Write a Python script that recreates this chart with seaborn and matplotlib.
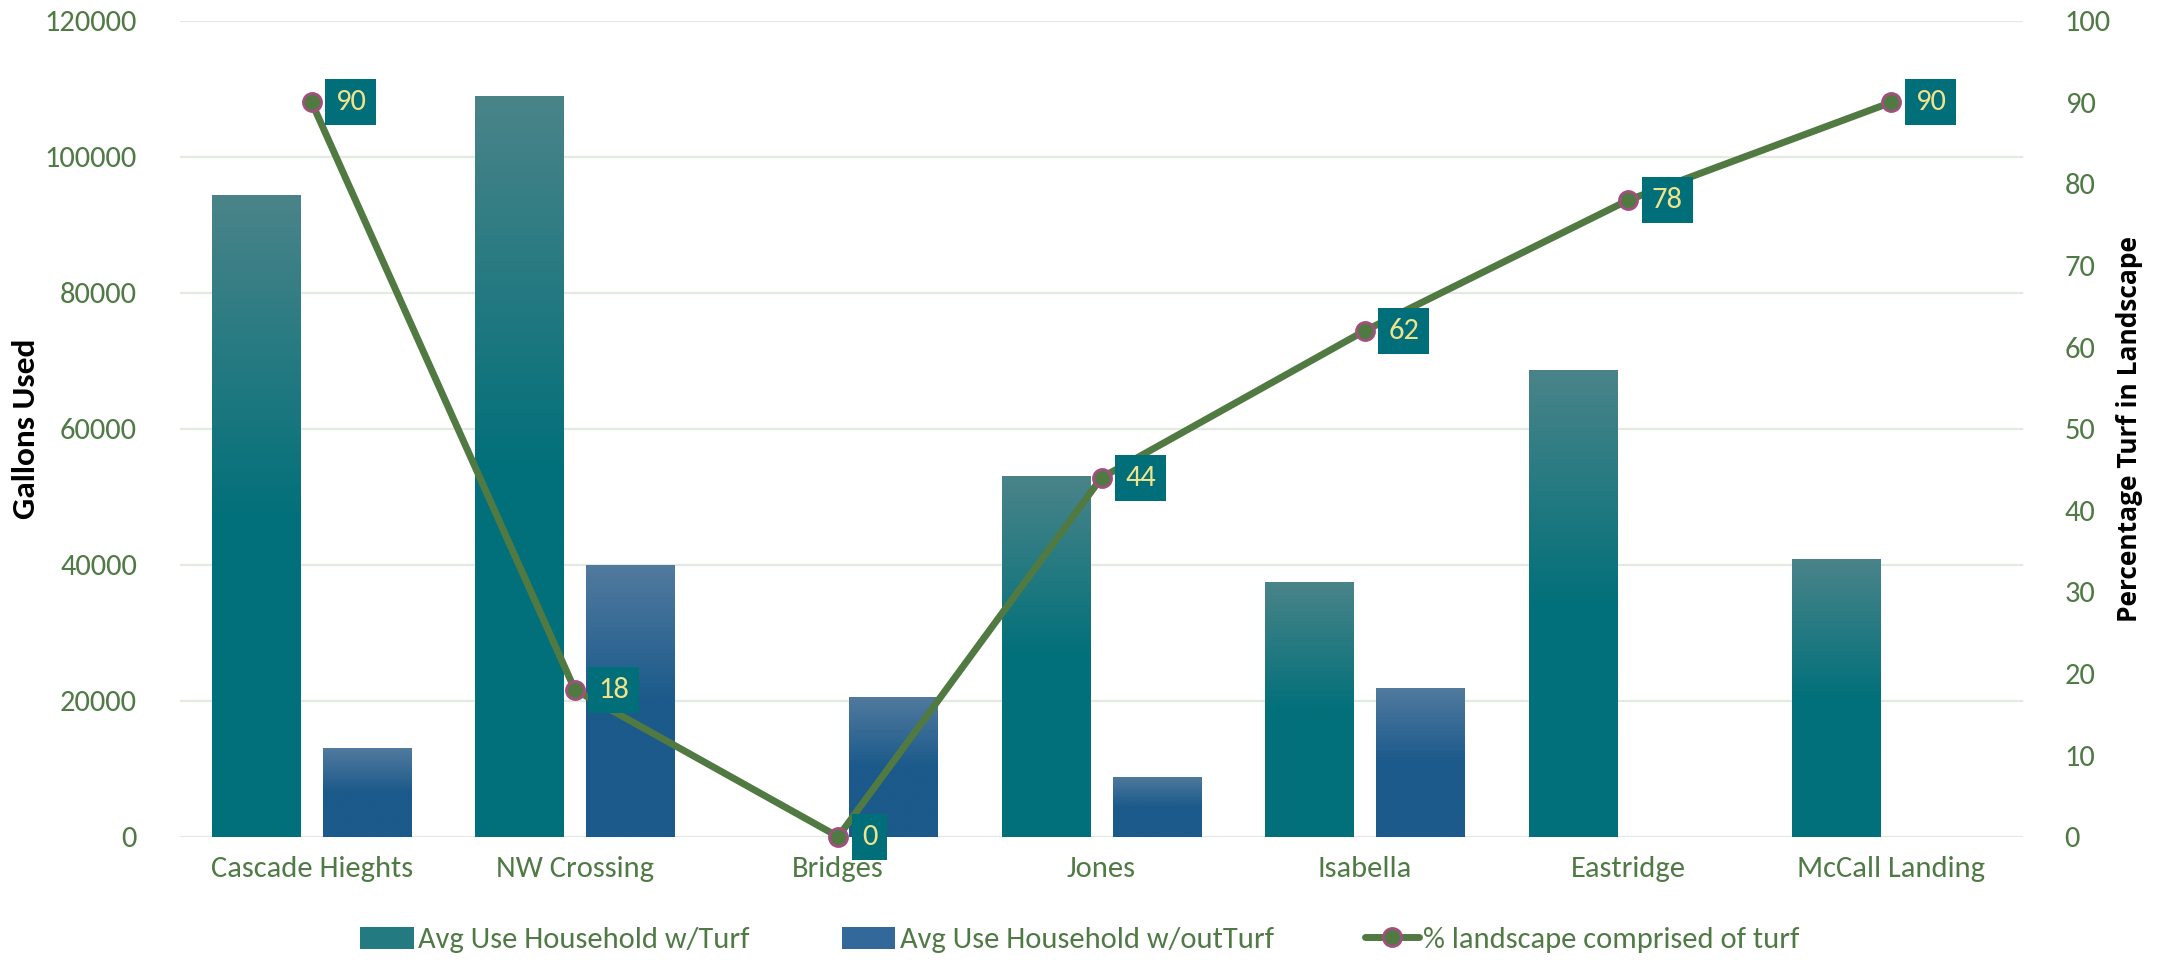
import numpy as np
import pandas as pd
import matplotlib
matplotlib.use("Agg")
import matplotlib.pyplot as plt
from matplotlib import font_manager
from matplotlib.colors import LinearSegmentedColormap, to_rgb
from matplotlib.patches import Patch
from matplotlib.lines import Line2D
import seaborn as sns

# ---------------- data ----------------
categories = ["Cascade Hieghts", "NW Crossing", "Bridges", "Jones",
              "Isabella", "Eastridge", "McCall Landing"]
turf_use = [94400, 109000, np.nan, 53100, 37500, 68700, 40900]
noturf_use = [13000, 40000, 20600, 8850, 21800, np.nan, np.nan]
pct_turf = [90, 18, 0, 44, 62, 78, 90]
series_names = ["Avg Use Household w/Turf", "Avg Use Household w/outTurf"]
line_name = "% landscape comprised of turf"
left_ticks = [0, 20000, 40000, 60000, 80000, 100000, 120000]
right_ticks = list(range(0, 101, 10))

# ---------------- style ----------------
sns.set_theme(style="white")
avail = {f.name for f in font_manager.fontManager.ttflist}
main_font = next((f for f in ["Carlito", "Lato", "Liberation Sans Narrow", "DejaVu Sans"] if f in avail))
plt.rcParams["font.family"] = [main_font, "DejaVu Sans"]

GREEN_TXT = "#507A45"
GRID = "#E3EBE0"
TURF_TOP, TURF_BOT = "#4A8489", "#02707A"
NOT_TOP, NOT_BOT = "#517A9E", "#1B5A8B"
LINE_C = "#507A42"
EDGE_C = "#A24F80"
BOX_C = "#006F7A"
LBL_C = "#F2E38A"

df = pd.DataFrame({
    "category": categories * 2,
    "value": turf_use + noturf_use,
    "series": [series_names[0]] * len(categories) + [series_names[1]] * len(categories),
})

fig = plt.figure(figsize=(21.73, 9.6), dpi=100)
ax = fig.add_axes([180 / 2173, 1 - 836.7 / 960, (2023 - 180) / 2173, (836.7 - 20.7) / 960])

sns.barplot(data=df, x="category", y="value", hue="series", order=categories,
            hue_order=series_names, width=0.84, gap=0.2, ax=ax,
            palette=[TURF_BOT, NOT_BOT], legend=False, errorbar=None, zorder=2)

ax.set_xlim(-0.5, len(categories) - 0.5)
ax.set_ylim(0, 120000)
ax.set_yticks(left_ticks)
ax.set_yticklabels([str(t) for t in left_ticks])
ax.grid(axis="y", color=GRID, lw=1.6, zorder=0)
ax.set_axisbelow(True)
for s in ax.spines.values():
    s.set_visible(False)
ax.tick_params(axis="both", length=0, labelsize=22, labelcolor=GREEN_TXT)
ax.tick_params(axis="y", pad=31)
ax.tick_params(axis="x", pad=14)
ax.set_xlabel("")
ax.set_ylabel("Gallons Used", fontsize=24, fontweight="bold", color="black")
ax.yaxis.set_label_coords((40 - 180) / 1843, 0.5)

# gradient fills for bars
def grad_cmap(top, bot):
    return LinearSegmentedColormap.from_list("g", [(0, to_rgb(bot)), (0.5, to_rgb(bot)), (1, to_rgb(top))])

cm_turf = grad_cmap(TURF_TOP, TURF_BOT)
cm_not = grad_cmap(NOT_TOP, NOT_BOT)
grad = np.linspace(0, 1, 256).reshape(-1, 1)
for cont, cm in zip(ax.containers, [cm_turf, cm_not]):
    for p in cont.patches:
        h = p.get_height()
        if not np.isfinite(h) or h <= 0:
            continue
        x0, w = p.get_x(), p.get_width()
        p.set_facecolor("none")
        p.set_edgecolor("none")
        im = ax.imshow(grad, cmap=cm, origin="lower", aspect="auto",
                       extent=(x0, x0 + w, 0, h), zorder=2, interpolation="bilinear")
        im.set_clip_path(p)
ax.set_xlim(-0.5, len(categories) - 0.5)
ax.set_ylim(0, 120000)

# secondary axis with line
ax2 = ax.twinx()
xpos = np.arange(len(categories))
sns.lineplot(x=xpos, y=pct_turf, ax=ax2, color=LINE_C, lw=5, marker="o",
             markersize=13, markerfacecolor=LINE_C, markeredgecolor=EDGE_C,
             markeredgewidth=2, zorder=5, clip_on=False)
ax2.set_ylim(0, 100)
ax2.set_yticks(right_ticks)
ax2.set_yticklabels([str(t) for t in right_ticks])
ax2.set_xlim(-0.5, len(categories) - 0.5)
ax2.grid(False)
for s in ax2.spines.values():
    s.set_visible(False)
ax2.tick_params(axis="y", length=0, labelsize=22, labelcolor=GREEN_TXT, pad=30)
ax2.set_ylabel("Percentage Turf in Landscape", fontsize=19, fontweight="bold",
               color="black", family=["Open Sans", "DejaVu Sans"])
ax2.yaxis.set_label_coords((2116 - 180) / 1843, 0.5)

for xv, yv in zip(xpos, pct_turf):
    ax2.annotate(str(yv), (xv, yv), xytext=(17, 0), textcoords="offset points",
                 ha="left", va="center", fontsize=22, color=LBL_C, zorder=6,
                 annotation_clip=False,
                 bbox=dict(boxstyle="square,pad=0.33", fc=BOX_C, ec="none"))

# legend
handles = [Patch(facecolor="#237A80", edgecolor="none"),
           Patch(facecolor="#33689A", edgecolor="none"),
           Line2D([0], [0], color=LINE_C, lw=5, marker="o", markersize=13,
                  markerfacecolor=LINE_C, markeredgecolor=EDGE_C, markeredgewidth=2)]
fig.legend(handles, series_names + [line_name], loc="center", ncol=3,
           bbox_to_anchor=(1080 / 2173, 1 - 940 / 960), frameon=False,
           fontsize=22, labelcolor=GREEN_TXT, handlelength=1.75, handleheight=0.72,
           handletextpad=0.15, columnspacing=3.0)

fig.savefig("out.png", dpi=100)
